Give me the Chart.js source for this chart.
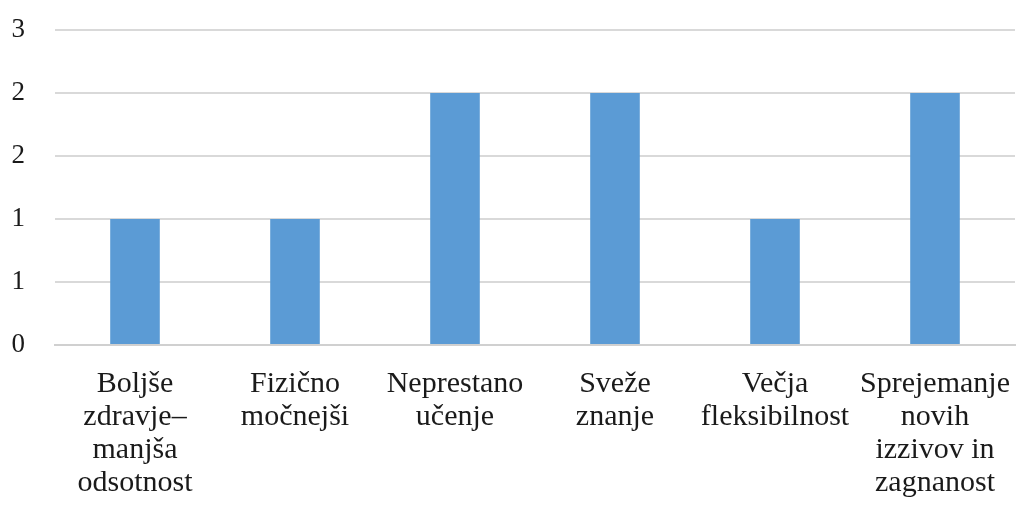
<!DOCTYPE html>
<html>
<head>
<meta charset="utf-8">
<script src="https://cdn.jsdelivr.net/npm/chart.js@4/dist/chart.umd.min.js"></script>
<style>
  html, body { margin: 0; padding: 0; background: #fff; }
  #wrap { width: 1018px; height: 506px; }
</style>
</head>
<body>
<div id="wrap"><canvas id="chart" width="1018" height="506"></canvas></div>
<script>
// Kategorien (mehrzeilig wie im Original)
var categories = [
    ["Boljše", "zdravje–", "manjša", "odsotnost"],
    ["Fizično", "močnejši"],
    ["Neprestano", "učenje"],
    ["Sveže", "znanje"],
    ["Večja", "fleksibilnost"],
    ["Sprejemanje", "novih", "izzivov in", "zagnanost"]
];
var values = [1, 1, 2, 2, 1, 2];
// Achsenbeschriftung ist im Original auf ganze Zahlen gerundet
var yTickLabels = ["0", "1", "1", "2", "2", "3"];

var ctx = document.querySelector("#chart");

new Chart(ctx, {
    type: "bar",
    data: {
        labels: categories,
        datasets: [{
            data: values,
            backgroundColor: "#5b9bd5",
            borderWidth: 0,
            barPercentage: 0.62,
            categoryPercentage: 0.5
        }]
    },
    options: {
        responsive: false,
        animation: false,
        layout: { padding: { top: 30, right: 3, left: 0, bottom: 0 } },
        plugins: {
            legend: { display: false },
            tooltip: { enabled: false }
        },
        scales: {
            x: {
                grid: { display: false, drawTicks: false },
                border: { color: "#d0d0d0", width: 2 },
                ticks: {
                    color: "#1a1a1a",
                    padding: 23,
                    maxRotation: 0,
                    autoSkip: false,
                    font: { family: "'Liberation Serif', 'Times New Roman', serif", size: 30, lineHeight: "33px" }
                },
                afterFit: function (scale) {
                    scale.height = 161;
                    scale.paddingLeft = 0;
                    scale.paddingRight = 0;
                }
            },
            y: {
                min: 0,
                max: 2.5,
                grid: { color: "#d9d9d9", lineWidth: 2, drawTicks: false },
                border: { display: false },
                ticks: {
                    stepSize: 0.5,
                    color: "#1a1a1a",
                    padding: 30,
                    font: { family: "'Liberation Serif', 'Times New Roman', serif", size: 27 },
                    callback: function (value, index) { return yTickLabels[index]; }
                },
                afterFit: function (scale) {
                    scale.width = 55;
                    scale.paddingTop = 0;
                    scale.paddingBottom = 0;
                }
            }
        }
    }
});
</script>
</body>
</html>
